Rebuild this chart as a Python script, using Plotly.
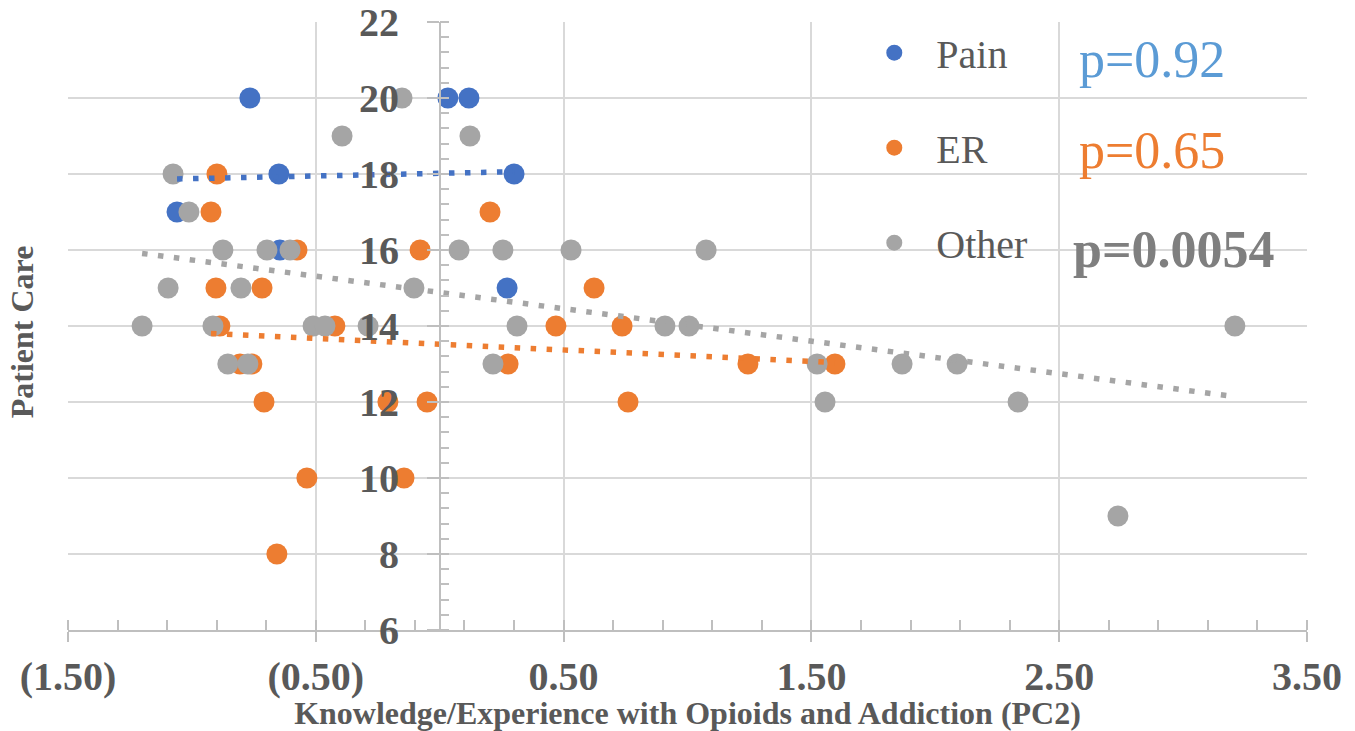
import plotly.graph_objects as go

# ---------------- data ----------------
pain_x = [-0.766, -0.649, -1.060, -0.645, 0.033, 0.118, 0.300, 0.272]
pain_y = [20, 18, 17, 16, 20, 20, 18, 15]

er_x = [-0.899, -0.923, -0.576, -0.079, -0.903, -0.717, 0.203, 0.623,
        -0.887, -0.423, 0.469, 0.736, -0.806, -0.758, 0.276, 1.244,
        1.595, -0.709, -0.209, -0.051, 0.760, -0.536, -0.144, -0.657]
er_y = [18, 17, 16, 16, 15, 15, 17, 15,
        14, 14, 14, 14, 13, 13, 13, 13,
        13, 12, 12, 12, 12, 10, 10, 8]

other_x = [-0.152, -0.394, 0.122, -1.076, -1.012, -0.875, -0.697, -0.604,
           0.078, 0.255, 0.530, 1.075, -1.096, -0.802, -0.104, -1.201,
           -0.915, -0.511, -0.463, -0.289, 0.312, 0.909, 1.006, 3.209,
           -0.855, -0.774, 0.215, 1.523, 1.866, 2.088, 1.555, 2.334, 2.737]
other_y = [20, 19, 19, 18, 17, 16, 16, 16,
           16, 16, 16, 16, 15, 15, 15, 14,
           14, 14, 14, 14, 14, 14, 14, 14,
           13, 13, 13, 13, 13, 13, 12, 12, 9]

# linear trendline end points
pain_trend_x = [-1.060, 0.300]
pain_trend_y = [17.87, 18.06]
er_trend_x = [-0.923, 1.595]
er_trend_y = [13.80, 13.04]
other_trend_x = [-1.201, 3.209]
other_trend_y = [15.91, 12.14]

series_names = ["Pain", "ER", "Other"]
p_labels = ["p=0.92", "p=0.65", "p=0.0054"]

x_tickvals = [-1.5, -0.5, 0.5, 1.5, 2.5, 3.5]
x_ticktext = ["(1.50)", "(0.50)", "0.50", "1.50", "2.50", "3.50"]
y_tickvals = [6, 8, 10, 12, 14, 16, 18, 20, 22]

x_title = "Knowledge/Experience with Opioids and Addiction (PC2)"
y_title = "Patient Care"

# ---------------- styles ----------------
C_PAIN = "#4472C4"
C_ER = "#ED7D31"
C_OTHER = "#A5A5A5"
TXT = "#595959"
GRID = "#D9D9D9"
AXIS = "#BFBFBF"
SERIF = "Liberation Serif"

fig = go.Figure()

for name, xs, ys, col in [("Pain", pain_x, pain_y, C_PAIN),
                          ("ER", er_x, er_y, C_ER),
                          ("Other", other_x, other_y, C_OTHER)]:
    fig.add_trace(go.Scatter(
        x=xs, y=ys, mode="markers", name=name, legendgroup=name,
        marker=dict(color=col, size=21, line=dict(width=0)),
    ))

for xs, ys, col in [(pain_trend_x, pain_trend_y, C_PAIN),
                    (er_trend_x, er_trend_y, C_ER),
                    (other_trend_x, other_trend_y, C_OTHER)]:
    fig.add_trace(go.Scatter(
        x=xs, y=ys, mode="lines", showlegend=False, hoverinfo="skip",
        line=dict(color=col, width=5.5, dash="5.5px,10.5px"),
    ))

# p-value annotations
p_styles = [("#5B9BD5", "normal"), (C_ER, "normal"), ("#7F7F7F", "bold")]
p_y = [0.938, 0.789, 0.626]
p_x = [0.8145, 0.8145, 0.8096]
for txt, (col, w), yy, xx in zip(p_labels, p_styles, p_y, p_x):
    fig.add_annotation(
        text=txt, xref="paper", yref="paper", x=xx, y=yy,
        xanchor="left", yanchor="middle", showarrow=False,
        font=dict(family=SERIF, size=52, color=col, weight=w),
    )

fig.add_annotation(
    text=y_title, xref="paper", yref="paper", x=-0.037, y=0.49,
    xanchor="center", yanchor="middle", textangle=-90, showarrow=False,
    font=dict(family=SERIF, size=32, color=TXT, weight="bold"),
)

fig.update_layout(
    width=1355, height=731,
    margin=dict(l=68, r=48, t=22, b=101, autoexpand=False),
    paper_bgcolor="white", plot_bgcolor="white",
    showlegend=True,
    legend=dict(
        x=0.633, y=1.003, xanchor="left", yanchor="top",
        bgcolor="rgba(0,0,0,0)", borderwidth=0,
        font=dict(family=SERIF, size=40, color=TXT),
        tracegroupgap=40, itemwidth=74,
    ),
    xaxis=dict(
        range=[-1.5, 3.5], domain=[0, 1], automargin=False,
        tickvals=x_tickvals, ticktext=x_ticktext,
        showgrid=True, gridcolor=GRID, gridwidth=1.5,
        zeroline=False,
        showline=True, linecolor=AXIS, linewidth=1.5,
        ticks="outside", ticklen=10, tickwidth=1.5, tickcolor=AXIS,
        minor=dict(tick0=-1.5, dtick=0.2, ticks="inside", ticklen=10,
                   tickwidth=1.5, tickcolor=AXIS, showgrid=False),
        tickfont=dict(family=SERIF, size=40, color=TXT, weight="bold"),
        title=dict(text=x_title, standoff=0,
                   font=dict(family=SERIF, size=32, color=TXT, weight="bold")),
    ),
    yaxis=dict(
        range=[6, 22], anchor="free", position=0.3, automargin=False,
        tickvals=y_tickvals,
        showgrid=True, gridcolor=GRID, gridwidth=1.5,
        zeroline=False,
        showline=True, linecolor=AXIS, linewidth=1.5,
        ticks="outside", ticklen=12, tickwidth=1.5, tickcolor=AXIS,
        minor=dict(tick0=6, dtick=0.4, ticks="inside", ticklen=9,
                   tickwidth=1.5, tickcolor=AXIS, showgrid=False),
        tickfont=dict(family=SERIF, size=40, color=TXT, weight="bold"),
        ticklabelstandoff=20,
    ),
)

fig.write_html("out.html")
